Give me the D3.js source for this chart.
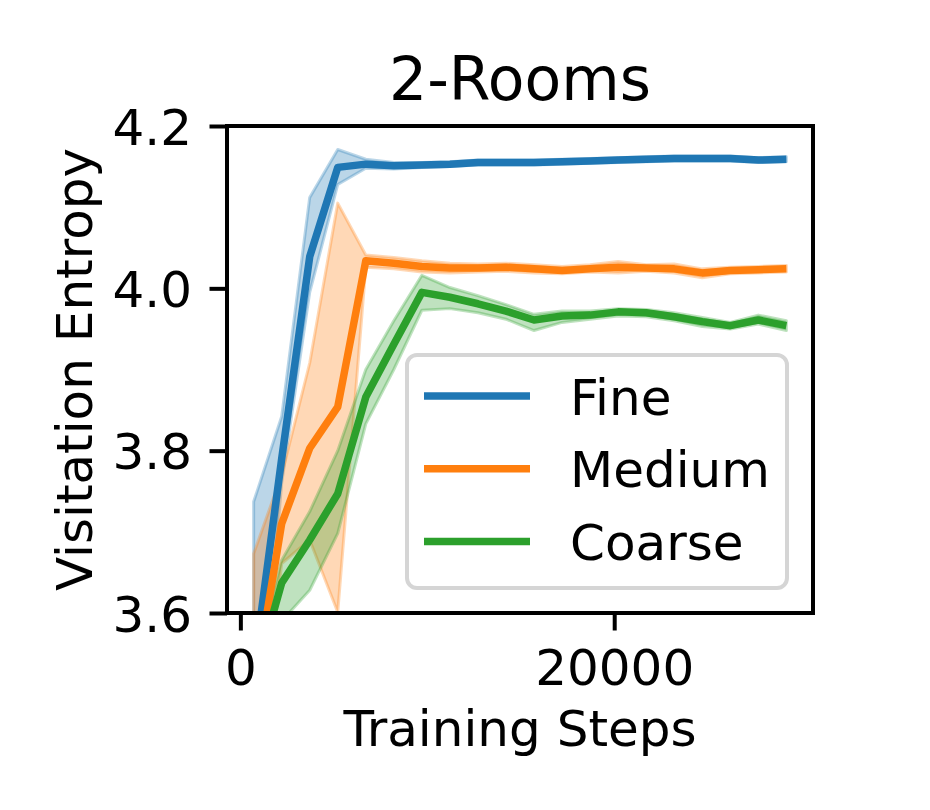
<!DOCTYPE html>
<html>
<head>
<meta charset="utf-8">
<script src="https://cdn.jsdelivr.net/npm/d3@7"></script>
<style>
  html, body { margin: 0; padding: 0; background: #ffffff; }
  svg { display: block; font-family: "DejaVu Sans", sans-serif; }
</style>
</head>
<body>
<svg id="chart" width="930" height="810"></svg>
<script>
// ---------------- data ----------------
const title = "2-Rooms";
const xLabel = "Training Steps";
const yLabel = "Visitation Entropy";
const seriesNames = ["Fine", "Medium", "Coarse"];
const seriesColors = ["#1f77b4", "#ff7f0e", "#2ca02c"];
const xTicks = [0, 20000];
const yTicks = [3.6, 3.8, 4.0, 4.2];

const steps = [710, 2210, 3710, 5210, 6710, 8210, 9710, 11210, 12710, 14210,
               15710, 17210, 18710, 20210, 21710, 23210, 24710, 26210, 27710, 29210];

const fineMean = [3.53, 3.79, 4.039, 4.149, 4.153, 4.151, 4.152, 4.153, 4.155, 4.155,
                  4.155, 4.156, 4.157, 4.158, 4.159, 4.160, 4.160, 4.160, 4.158, 4.159];
const fineLow  = [3.35, 3.76, 3.995, 4.128, 4.148, 4.147, 4.149, 4.150, 4.152, 4.152,
                  4.152, 4.153, 4.154, 4.155, 4.156, 4.157, 4.157, 4.157, 4.155, 4.156];
const fineHigh = [3.737, 3.842, 4.112, 4.171, 4.159, 4.155, 4.155, 4.156, 4.158, 4.158,
                  4.158, 4.159, 4.160, 4.161, 4.162, 4.163, 4.163, 4.163, 4.161, 4.162];

const mediumMean = [3.50, 3.710, 3.803, 3.854, 4.034, 4.031, 4.027, 4.025, 4.025, 4.026,
                    4.024, 4.022, 4.024, 4.026, 4.025, 4.024, 4.019, 4.022, 4.023, 4.024];
const mediumLow  = [3.35, 3.661, 3.690, 3.601, 4.026, 4.024, 4.020, 4.019, 4.020, 4.021,
                    4.019, 4.018, 4.020, 4.019, 4.021, 4.019, 4.013, 4.018, 4.019, 4.020];
const mediumHigh = [3.673, 3.770, 3.908, 4.105, 4.041, 4.038, 4.034, 4.031, 4.030, 4.031,
                    4.029, 4.027, 4.029, 4.033, 4.029, 4.030, 4.024, 4.026, 4.027, 4.028];

const coarseMean = [3.514, 3.637, 3.690, 3.747, 3.866, 3.931, 3.995, 3.989, 3.981, 3.972,
                    3.961, 3.966, 3.967, 3.971, 3.970, 3.965, 3.959, 3.954, 3.961, 3.954];
const coarseLow  = [3.48, 3.590, 3.628, 3.698, 3.833, 3.900, 3.973, 3.975, 3.970, 3.962,
                    3.948, 3.958, 3.962, 3.966, 3.965, 3.960, 3.953, 3.950, 3.956, 3.948];
const coarseHigh = [3.53, 3.665, 3.725, 3.800, 3.900, 3.960, 4.016, 4.001, 3.991, 3.980,
                    3.968, 3.972, 3.972, 3.975, 3.974, 3.970, 3.964, 3.958, 3.967, 3.960];

const means = [fineMean, mediumMean, coarseMean];
const lows = [fineLow, mediumLow, coarseLow];
const highs = [fineHigh, mediumHigh, coarseHigh];

// ---------------- layout ----------------
const margin = { left: 227, top: 126, right: 117, bottom: 197 };
const W = 930, H = 810;
const iw = W - margin.left - margin.right;
const ih = H - margin.top - margin.bottom;

const svg = d3.select("#chart");
const g = svg.append("g").attr("transform", `translate(${margin.left},${margin.top})`);

const xMin = d3.min(steps), xMax = d3.max(steps);
const pad = (xMax - xMin) * 0.05;
const x = d3.scaleLinear().domain([xMin - pad, xMax + pad]).range([0, iw]);
const y = d3.scaleLinear().domain([3.6, 4.2]).range([ih, 0]);

svg.append("defs").append("clipPath").attr("id", "clip")
  .append("rect").attr("x", 0).attr("y", 0).attr("width", iw).attr("height", ih);

const plot = g.append("g").attr("clip-path", "url(#clip)");

// bands
const area = d3.area()
  .x(d => x(d.x)).y0(d => y(d.lo)).y1(d => y(d.hi));
seriesNames.forEach((name, k) => {
  const data = steps.map((s, i) => ({ x: s, lo: lows[k][i], hi: highs[k][i] }));
  plot.append("path")
    .attr("d", area(data) )
    .attr("fill", seriesColors[k]).attr("fill-opacity", 0.3)
    .attr("stroke", seriesColors[k]).attr("stroke-opacity", 0.3)
    .attr("stroke-width", 3).attr("stroke-linejoin", "round");
});

// mean lines
const line = d3.line().x(d => x(d.x)).y(d => y(d.v));
seriesNames.forEach((name, k) => {
  const data = steps.map((s, i) => ({ x: s, v: means[k][i] }));
  plot.append("path")
    .attr("d", line(data))
    .attr("fill", "none")
    .attr("stroke", seriesColors[k])
    .attr("stroke-width", 7.5)
    .attr("stroke-linejoin", "round")
    .attr("stroke-linecap", "butt");
});

// axes
const xAxis = g.append("g").attr("transform", `translate(0,${ih})`)
  .call(d3.axisBottom(x).tickValues(xTicks).tickFormat(d3.format("d")).tickSize(17.5).tickPadding(17.5));
const yAxis = g.append("g")
  .call(d3.axisLeft(y).tickValues(yTicks).tickFormat(d3.format(".1f")).tickSize(17.5).tickPadding(17.5));
[xAxis, yAxis].forEach(a => {
  a.select(".domain").remove();
  a.selectAll(".tick line").attr("stroke", "#000").attr("stroke-width", 4);
  a.selectAll(".tick text").attr("fill", "#000")
    .style("font-family", "'DejaVu Sans', sans-serif").style("font-size", "50px");
});
xAxis.selectAll(".tick text").attr("dy", "0.74em");
yAxis.selectAll(".tick text").attr("dy", "0.36em");

// spines
g.append("rect").attr("x", 0).attr("y", 0).attr("width", iw).attr("height", ih)
  .attr("fill", "none").attr("stroke", "#000").attr("stroke-width", 4);

// labels
svg.append("text").attr("x", margin.left + iw / 2).attr("y", 100)
  .attr("text-anchor", "middle").style("font-size", "60px").text(title);
svg.append("text").attr("x", margin.left + iw / 2).attr("y", 746)
  .attr("text-anchor", "middle").style("font-size", "50px").text(xLabel);
svg.append("text").attr("transform", `translate(92,${margin.top + ih / 2}) rotate(-90)`)
  .attr("text-anchor", "middle").style("font-size", "50px").text(yLabel);

// legend
const lg = svg.append("g").attr("transform", "translate(407,355)");
lg.append("rect").attr("x", 0).attr("y", 0).attr("width", 380).attr("height", 233)
  .attr("rx", 10).attr("ry", 10)
  .attr("fill", "#fff").attr("fill-opacity", 0.8)
  .attr("stroke", "#d5d5d5").attr("stroke-width", 4);
seriesNames.forEach((name, k) => {
  const cy = 41 + k * 72.7;
  lg.append("line").attr("x1", 17).attr("x2", 123).attr("y1", cy).attr("y2", cy)
    .attr("stroke", seriesColors[k]).attr("stroke-width", 7.5);
  lg.append("text").attr("x", 163).attr("y", cy + 18.5)
    .style("font-size", "50px").text(name);
});
</script>
</body>
</html>
